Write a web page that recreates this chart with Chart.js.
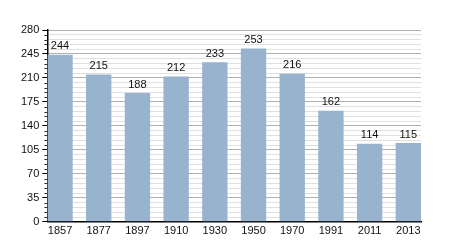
<!DOCTYPE html>
<html>
<head>
<meta charset="utf-8">
<script src="https://cdn.jsdelivr.net/npm/chart.js@4/dist/chart.umd.min.js"></script>
<style>
  html, body { margin: 0; padding: 0; background: #fff; }
  #wrap { width: 450px; height: 250px; }
</style>
</head>
<body>
<div id="wrap"><canvas id="chart"></canvas></div>
<script>
// données
const years = ["1857", "1877", "1897", "1910", "1930", "1950", "1970", "1991", "2011", "2013"];
const population = [244, 215, 188, 212, 233, 253, 216, 162, 114, 115];
const yMax = 280;
const yMajor = 35;
const yMinor = 7;

const FONT = "'Liberation Sans', Arial, sans-serif";
const barFrac = 0.655;   // largeur barre / pas

const isMajor = c => c.tick && c.tick.value % yMajor === 0;

// valeurs au-dessus des barres + petites graduations
const extras = {
    id: "extras",
    afterDatasetsDraw(chart){
        const ctx = chart.ctx;
        const meta = chart.getDatasetMeta(0);
        const y = chart.scales.y;
        ctx.save();
        // graduations mineures (plus courtes)
        ctx.strokeStyle = "#333";
        ctx.lineWidth = 1;
        y.ticks.forEach(t => {
            if(t.value % yMajor === 0) return;
            const py = Math.round(y.getPixelForValue(t.value)) + 0.5;
            ctx.beginPath();
            ctx.moveTo(y.right - 3, py);
            ctx.lineTo(y.right, py);
            ctx.stroke();
        });
        ctx.font = "11px " + FONT;
        ctx.fillStyle = "#111";
        ctx.textAlign = "center";
        ctx.textBaseline = "bottom";
        meta.data.forEach((bar, i) => {
            ctx.fillText(population[i], bar.x, bar.y - 3);
        });
        ctx.restore();
    }
};

new Chart(document.getElementById("chart"), {
    type: "bar",
    data: {
        datasets: [{
            data: population.map((v, i) => ({ x: i, y: v })),
            backgroundColor: "#98b3cd",
            borderWidth: 0,
            categoryPercentage: 1,
            barPercentage: barFrac
        }]
    },
    options: {
        responsive: true,
        maintainAspectRatio: false,
        animation: false,
        layout: { padding: { left: 18, right: 29, top: 30, bottom: 9 } },
        plugins: { legend: { display: false }, tooltip: { enabled: false } },
        scales: {
            x: {
                type: "linear",
                min: -barFrac / 2,
                max: years.length - 1 + barFrac / 2,
                offset: false,
                grid: { display: false, drawTicks: false },
                border: { color: "#000", width: 1.5 },
                afterBuildTicks: s => { s.ticks = years.map((_, i) => ({ value: i })); },
                ticks: {
                    color: "#111",
                    padding: 3,
                    font: { family: FONT, size: 11 },
                    maxRotation: 0,
                    autoSkip: false,
                    callback: v => years[v]
                }
            },
            y: {
                min: 0,
                max: yMax,
                border: { color: "#000", width: 1.5 },
                grid: {
                    color: c => isMajor(c) ? "#b0b0b0" : "#e0e0e0",
                    tickColor: c => isMajor(c) ? "#000" : "rgba(0,0,0,0)",
                    tickLength: 5,
                    lineWidth: 1
                },
                ticks: {
                    stepSize: yMinor,
                    autoSkip: false,
                    color: "#111",
                    padding: 3,
                    font: { family: FONT, size: 11 },
                    callback: v => (v % yMajor === 0) ? v : ""
                }
            }
        }
    },
    plugins: [extras]
});
</script>
</body>
</html>
